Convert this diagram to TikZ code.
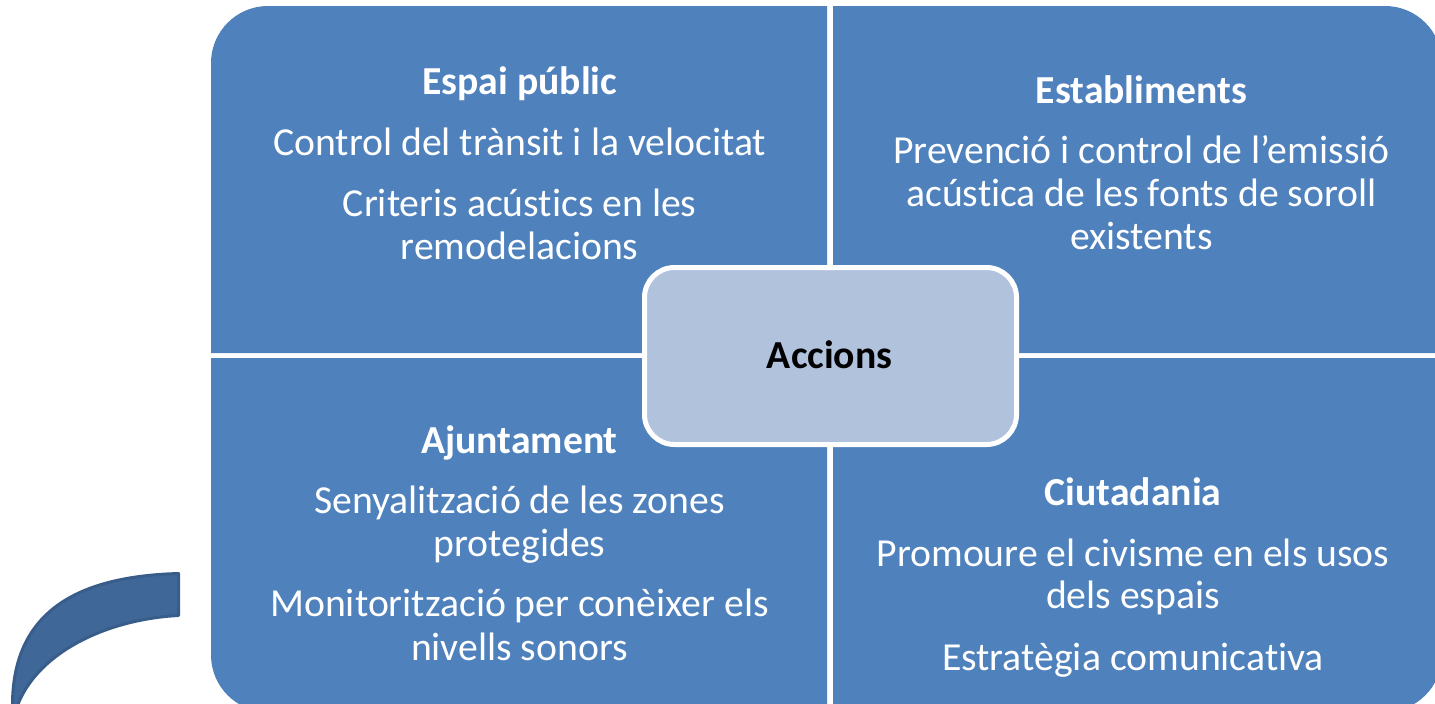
\documentclass[tikz,border=0pt]{standalone}
\usepackage{fontspec}
\setmainfont{Carlito}[Ligatures=NoCommon]
\definecolor{quad}{HTML}{4F81BD}
\definecolor{centre}{HTML}{B1C2DD}
\definecolor{bandfill}{HTML}{3F6899}
\definecolor{bandline}{HTML}{385D8A}
\tikzset{
  quadbox/.style={fill=quad, draw=none},
  txt/.style={text=white, anchor=base, inner sep=0pt, font=\fontsize{39.7}{43}\selectfont},
  head/.style={txt, font=\fontsize{39.7}{43}\selectfont\bfseries},
}
\begin{document}
\begin{tikzpicture}[x=1pt, y=-1pt]
\useasboundingbox (0,0) rectangle (1435,704);
\fill[white] (0,0) rectangle (1435,704);
\begin{scope}
\clip (0,0) rectangle (1435,704);
% quadrants
\fill[quadbox] (211,353) -- (211,63) arc[start angle=180, end angle=270, radius=57] -- (827,6) -- (827,353) -- cycle;
\fill[quadbox] (833,353) -- (833,6) -- (1385,6) arc[start angle=270, end angle=360, radius=57] -- (1442,353) -- cycle;
\fill[quadbox] (211,358) -- (827,358) -- (827,712) -- (268,712) arc[start angle=90, end angle=180, radius=57] -- cycle;
\fill[quadbox] (833,358) -- (1442,358) -- (1442,655) arc[start angle=0, end angle=90, radius=57] -- (833,712) -- cycle;
% curved band
\draw[fill=bandfill, draw=bandline, line width=3pt, line join=round]
  (178.5,573.5) .. controls (92,576) and (13,602) .. (12.5,704) -- (12.5,720) -- (17,720) -- (18,704)
  .. controls (40,650) and (110,619) .. (178.5,615.5) -- cycle;
\end{scope}
% centre box
\node[draw=white, line width=5pt, fill=centre, rounded corners=30pt, minimum width=372pt, minimum height=177pt, inner sep=0pt] (acc) at (830.5,356) {};
\node[txt, text=black, font=\fontsize{39.7}{43}\selectfont\bfseries] (acct) at (829.7,368.3) {Accions};
% top-left
\node[head] (h1) at (519.7,94.3) {Espai públic};
\node[txt] (t11) at (519.7,155) {Control del trànsit i la velocitat};
\node[txt] (t12) at (519.7,216.7) {Criteris acústics en les};
\node[txt] (t13) at (519.7,259) {remodelacions};
% top-right
\node[head] (h2) at (1141.5,103.3) {Establiments};
\node[txt] (t21) at (1141.5,163.3) {Prevenció i control de l’emissió};
\node[txt] (t22) at (1141.5,206.7) {acústica de les fonts de soroll};
\node[txt] (t23) at (1141.5,249.3) {existents};
% bottom-left
\node[head] (h3) at (519.5,453.3) {Ajuntament};
\node[txt] (t31) at (519.5,513.3) {Senyalització de les zones};
\node[txt] (t32) at (519.5,556) {protegides};
\node[txt] (t33) at (519.5,616.7) {Monitorització per conèixer els};
\node[txt] (t34) at (519.5,660) {nivells sonors};
% bottom-right
\node[head] (h4) at (1133,505) {Ciutadania};
\node[txt] (t41) at (1133,566) {Promoure el civisme en els usos};
\node[txt] (t42) at (1133,608.3) {dels espais};
\node[txt] (t43) at (1133,670) {Estratègia comunicativa};
\end{tikzpicture}
\end{document}
